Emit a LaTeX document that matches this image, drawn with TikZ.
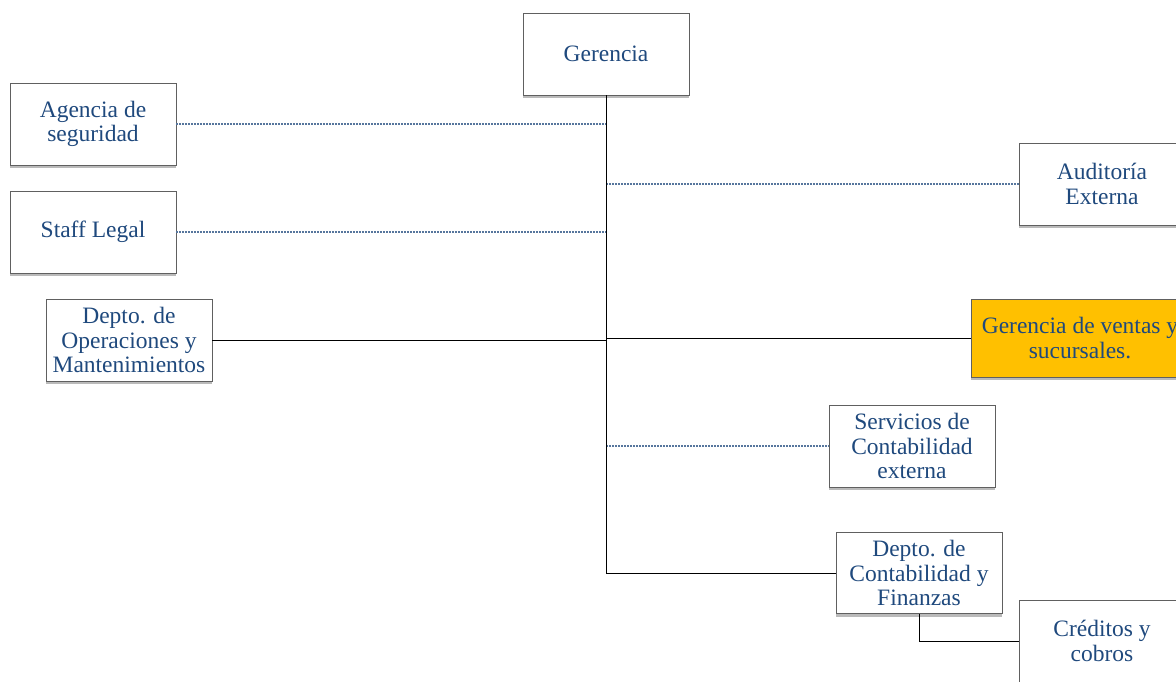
\documentclass[tikz,border=0pt]{standalone}
\usepackage{fontspec}
\setmainfont{Liberation Serif}
\usepackage{tikz}
\usetikzlibrary{shadows}
\definecolor{azul}{RGB}{31,73,125}
\definecolor{oro}{RGB}{255,192,0}

\begin{document}
\begin{tikzpicture}[x=1pt,y=-1pt,
  caja/.style={draw=gray!75!black, line width=0.9pt, fill=white, text=azul,
    minimum width=166pt, minimum height=82pt, align=center, inner sep=2pt,
    font=\fontsize{23.5}{24.5}\selectfont,
    drop shadow={shadow xshift=0pt, shadow yshift=-3pt, opacity=0.45, fill=black!60}},
  punteada/.style={draw=azul!75, line width=1.2pt, dash pattern=on 2pt off 1pt},
  linea/.style={draw=black, line width=1pt}]
\useasboundingbox (0,0) rectangle (1176,681);
\fill[white] (0,0) rectangle (1176,681);
\clip (0,0) rectangle (1176,681);
% cajas
\node[caja] (ger) at (606,54) {Gerencia};
\node[caja] (agencia) at (93,124) {Agencia de\\seguridad};
\node[caja] (staff) at (93,232) {Staff Legal};
\node[caja] (oper) at (129,340) {Depto. de\\Operaciones y\\Mantenimientos};
\node[caja] (audit) at (1102,184) {Auditoría\\Externa};
\node[caja, fill=oro, minimum width=218pt, minimum height=78pt] (ventas) at (1080,338) {Gerencia de ventas y\\sucursales.};
\node[caja] (servicios) at (912,446) {Servicios de\\Contabilidad\\externa};
\node[caja, minimum height=81pt] (conta) at (919,573) {Depto. de\\Contabilidad y\\Finanzas};
\node[caja] (creditos) at (1102,641) {Créditos y\\cobros};
% lineas de apoyo
\draw[punteada] (agencia.east) -- (agencia.east -| ger.south);
\draw[punteada] (staff.east) -- (staff.east -| ger.south);
\draw[punteada] (ger.south |- audit.west) -- (audit.west);
\draw[punteada] (ger.south |- servicios.west) -- (servicios.west);
% lineas de mando
\draw[linea] (ger.south) |- (conta.west);
\draw[linea] (oper.east) -- (oper.east -| ger.south);
\draw[linea] (ger.south |- ventas.west) -- (ventas.west);
\draw[linea] (conta.south) |- (creditos.west);
\end{tikzpicture}
\end{document}
